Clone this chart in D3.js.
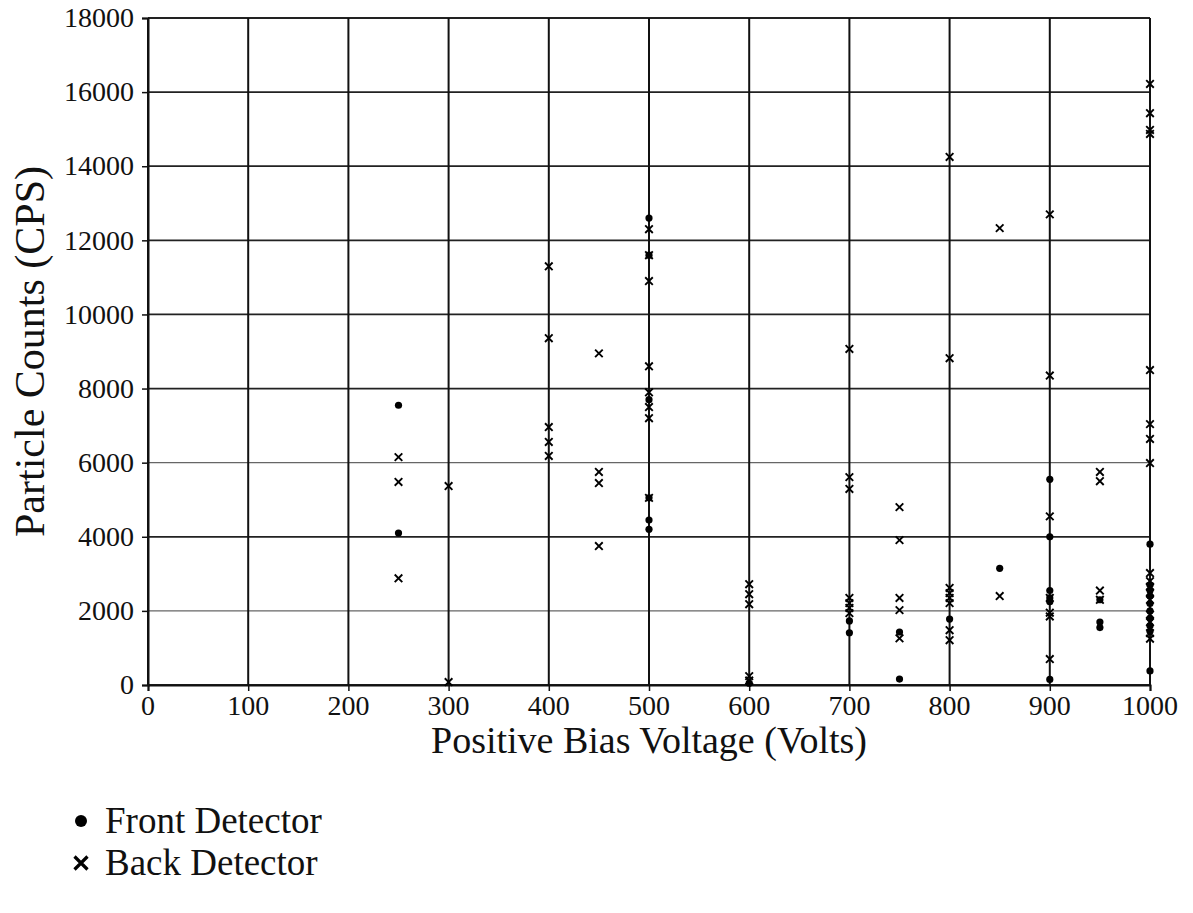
<!DOCTYPE html>
<html><head><meta charset="utf-8">
<script src="https://cdn.jsdelivr.net/npm/d3@7"></script>
<style>body{margin:0;background:#fff}svg{display:block}</style>
</head><body>
<script>
// Data (voltage -> counts)
const frontVolts  = [250,250, 500,500,500,500,500,500, 600, 700,700, 750,750, 800, 850, 900,900,900,900,900,900, 950,950,950, 1000,1000,1000,1000,1000,1000,1000,1000,1000,1000];
const frontCounts = [7550,4100, 12600,11600,7700,5050,4450,4200, 50, 1730,1410, 1430,160, 1780, 3150, 5550,4000,2550,2350,2250,150, 2300,1700,1550, 3800,2700,2550,2400,2200,2000,1800,1600,1450,380];
const backVolts  = [250,250,250, 300,300, 400,400,400,400,400, 450,450,450,450, 500,500,500,500,500,500,500,500, 600,600,600,600,600, 700,700,700,700,700,700,700, 750,750,750,750,750, 800,800,800,800,800,800,800,800, 850,850, 900,900,900,900,900,900,900, 950,950,950,950, 1000,1000,1000,1000,1000,1000,1000,1000,1000,1000,1000,1000,1000,1000,1000,1000,1000];
const backCounts = [6150,5480,2880, 5370,80, 11300,9360,6960,6560,6180, 8950,5750,5450,3750, 12300,11600,10900,8600,7900,7500,7200,5050, 2720,2450,2180,240,120, 9070,5610,5290,2350,2210,2080,1940, 4800,3910,2350,2020,1260, 14250,8820,2620,2480,2350,2210,1480,1210, 12330,2400, 12700,8350,4550,2350,1950,1850,700, 5750,5500,2550,2300, 16220,15430,14980,14870,8500,7040,6640,5990,3020,2800,2650,2500,2300,1900,1700,1400,1250];
const xTicks = [0,100,200,300,400,500,600,700,800,900,1000];
const yTicks = [0,2000,4000,6000,8000,10000,12000,14000,16000,18000];
const xTitle = "Positive Bias Voltage (Volts)";
const yTitle = "Particle Counts (CPS)";
const legendLabels = ["Front Detector","Back Detector"];

const FONT = "Liberation Serif, Times New Roman, serif";
const W = 1193, H = 913;
const m = {left:148, right:43, top:18, bottom:228};
const svg = d3.select("body").append("svg").attr("width",W).attr("height",H)
  .attr("font-family",FONT);

const x = d3.scaleLinear().domain([0,1000]).range([m.left, W-m.right]);
const y = d3.scaleLinear().domain([0,18000]).range([H-m.bottom, m.top]);

// grid
svg.append("g").selectAll("line").data(yTicks).join("line")
  .attr("x1",x(0)).attr("x2",x(1000)).attr("y1",d=>y(d)).attr("y2",d=>y(d))
  .attr("stroke",d=>(d===2000||d===6000)?"#666":"#222").attr("stroke-width",d=>(d===2000||d===6000)?1.4:1.8);
svg.append("g").selectAll("line").data(xTicks).join("line")
  .attr("y1",y(0)).attr("y2",y(18000)).attr("x1",d=>x(d)).attr("x2",d=>x(d))
  .attr("stroke","#111").attr("stroke-width",2);

// axes (ticks + domain through d3 axes; labels drawn as serif text at scale positions)
const xAxis = d3.axisBottom(x).tickValues(xTicks).tickSize(6).tickFormat("");
const yAxis = d3.axisLeft(y).tickValues(yTicks).tickSize(6).tickFormat("");
const gx = svg.append("g").attr("transform",`translate(0,${y(0)})`).call(xAxis);
const gy = svg.append("g").attr("transform",`translate(${x(0)},0)`).call(yAxis);
svg.selectAll(".domain").attr("stroke","#111").attr("stroke-width",2);
svg.selectAll(".tick line").attr("stroke","#111").attr("stroke-width",1.5);

svg.append("g").attr("class","xlabels").selectAll("text").data(xTicks).join("text")
  .attr("x",d=>x(d)).attr("y",y(0)+30).attr("text-anchor","middle")
  .attr("font-family",FONT).attr("font-size",28).attr("fill","#111").text(d=>String(d));
svg.append("g").attr("class","ylabels").selectAll("text").data(yTicks).join("text")
  .attr("x",x(0)-14).attr("y",d=>y(d)).attr("dy","0.33em").attr("text-anchor","end")
  .attr("font-family",FONT).attr("font-size",28).attr("fill","#111").text(d=>String(d));

// titles
svg.append("text").attr("x",(x(0)+x(1000))/2).attr("y",753).attr("text-anchor","middle")
  .attr("font-family",FONT).attr("font-size",38).attr("fill","#111").text(xTitle);
svg.append("text").attr("transform",`translate(44,${(y(0)+y(18000))/2}) rotate(-90)`).attr("text-anchor","middle")
  .attr("font-family",FONT).attr("font-size",42).attr("fill","#111").text(yTitle);

// marks
const front = frontVolts.map((v,i)=>({v, c:frontCounts[i]}));
const back = backVolts.map((v,i)=>({v, c:backCounts[i]}));
svg.append("g").selectAll("circle").data(front).join("circle")
  .attr("cx",d=>x(d.v)).attr("cy",d=>y(d.c)).attr("r",3.6).attr("fill","#000");
const s = 3.8;
svg.append("g").selectAll("path").data(back).join("path")
  .attr("d",d=>{const cx=x(d.v), cy=y(d.c); return `M${cx-s},${cy-s}L${cx+s},${cy+s}M${cx-s},${cy+s}L${cx+s},${cy-s}`;})
  .attr("stroke","#000").attr("stroke-width",1.9).attr("fill","none");

// legend
const lg = svg.append("g");
lg.append("circle").attr("cx",81).attr("cy",821).attr("r",6).attr("fill","#000");
lg.append("text").attr("x",105).attr("y",833).attr("font-family",FONT).attr("font-size",37).attr("fill","#111").text(legendLabels[0]);
const ls = 6.5;
lg.append("path").attr("d",`M${81-ls},${863-ls}L${81+ls},${863+ls}M${81-ls},${863+ls}L${81+ls},${863-ls}`)
  .attr("stroke","#000").attr("stroke-width",3.2);
lg.append("text").attr("x",105).attr("y",875).attr("font-family",FONT).attr("font-size",37).attr("fill","#111").text(legendLabels[1]);
</script>
</body></html>
